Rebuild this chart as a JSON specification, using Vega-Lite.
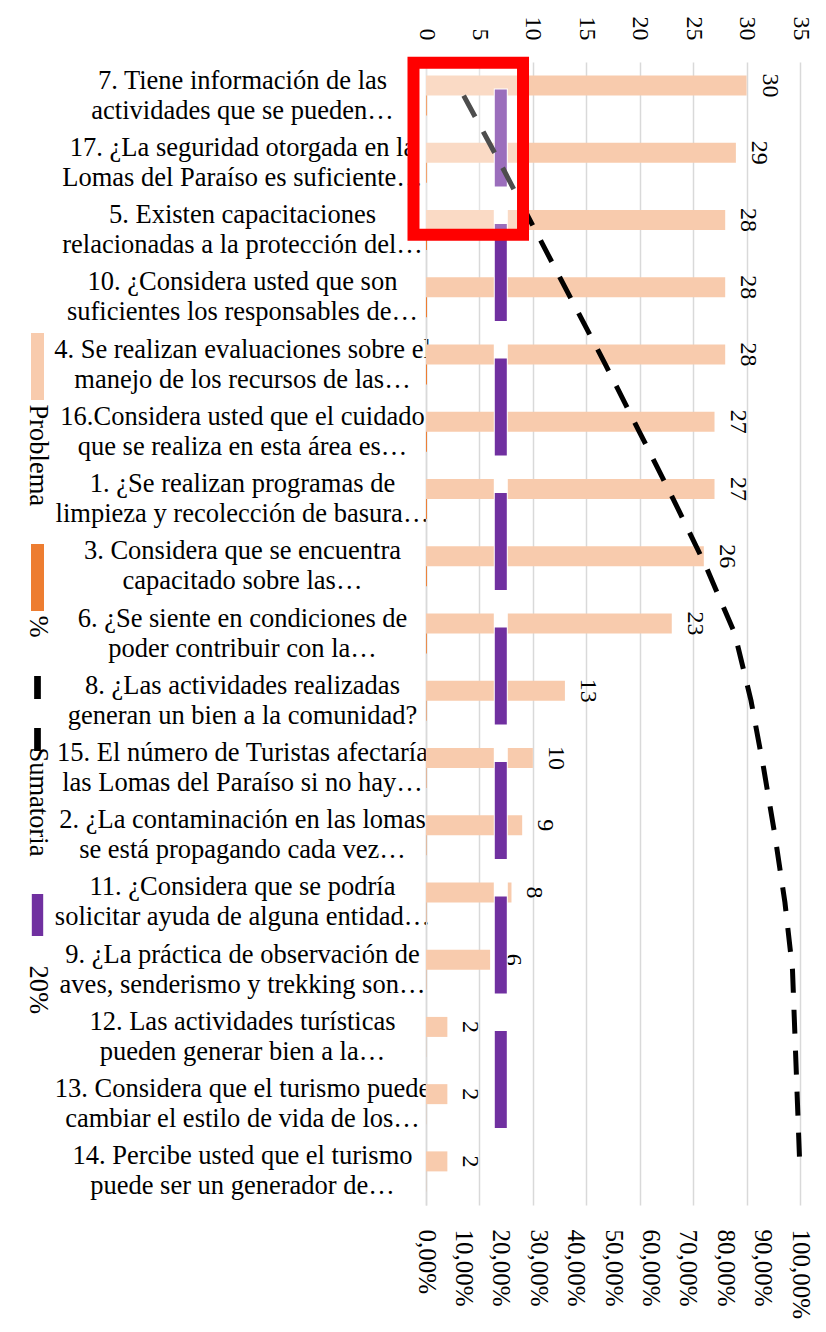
{
  "$schema": "https://vega.github.io/schema/vega-lite/v6.json",
  "autosize": {"type": "none"},
  "padding": {"left": 426, "top": 62, "right": 26, "bottom": 127},
  "width": 374,
  "height": 1143,
  "background": "white",
  "config": {"font": "Liberation Serif", "view": {"stroke": null}, "axis": {"labelOverlap": false}, "axisX": {"labelOverlap": false}},
  "datasets": {
    "main": [
      {"pregunta": "7. Tiene información de las|actividades que se pueden…", "problema": 30, "pct": 0.1007, "sumatoria": 0.1007},
      {"pregunta": "17. ¿La seguridad otorgada en la|Lomas del Paraíso es suficiente…", "problema": 29, "pct": 0.0973, "sumatoria": 0.198},
      {"pregunta": "5. Existen capacitaciones|relacionadas a la protección del…", "problema": 28, "pct": 0.094, "sumatoria": 0.2919},
      {"pregunta": "10. ¿Considera usted que son|suficientes los responsables de…", "problema": 28, "pct": 0.094, "sumatoria": 0.3859},
      {"pregunta": "4. Se realizan evaluaciones sobre el|manejo de los recursos de las…", "problema": 28, "pct": 0.094, "sumatoria": 0.4799},
      {"pregunta": "16.Considera usted que el cuidado|que se realiza en esta área es…", "problema": 27, "pct": 0.0906, "sumatoria": 0.5705},
      {"pregunta": "1. ¿Se realizan programas de|limpieza y recolección de basura…", "problema": 27, "pct": 0.0906, "sumatoria": 0.6611},
      {"pregunta": "3. Considera que se encuentra|capacitado sobre las…", "problema": 26, "pct": 0.0872, "sumatoria": 0.7483},
      {"pregunta": "6. ¿Se siente en condiciones de|poder contribuir con la…", "problema": 23, "pct": 0.0772, "sumatoria": 0.8255},
      {"pregunta": "8. ¿Las actividades realizadas|generan un bien a la comunidad?", "problema": 13, "pct": 0.0436, "sumatoria": 0.8691},
      {"pregunta": "15. El número de Turistas afectaría|las Lomas del Paraíso si no hay…", "problema": 10, "pct": 0.0336, "sumatoria": 0.9027},
      {"pregunta": "2. ¿La contaminación en las lomas|se está propagando cada vez…", "problema": 9, "pct": 0.0302, "sumatoria": 0.9329},
      {"pregunta": "11. ¿Considera que se podría|solicitar ayuda de alguna entidad…", "problema": 8, "pct": 0.0268, "sumatoria": 0.9597},
      {"pregunta": "9. ¿La práctica de observación de|aves, senderismo y trekking son…", "problema": 6, "pct": 0.0201, "sumatoria": 0.9799},
      {"pregunta": "12. Las actividades turísticas|pueden generar bien a la…", "problema": 2, "pct": 0.0067, "sumatoria": 0.9866},
      {"pregunta": "13. Considera que el turismo puede|cambiar el estilo de vida de los…", "problema": 2, "pct": 0.0067, "sumatoria": 0.9933},
      {"pregunta": "14. Percibe usted que el turismo|puede ser un generador de…", "problema": 2, "pct": 0.0067, "sumatoria": 1.0}
    ],
    "caja": [{"x1": -1.17, "x2": 9.08, "y1": 0.01, "y2": 2.57}]
  },
  "data": {"name": "main"},
  "layer": [
    {
      "layer": [
        {
          "mark": {"type": "bar", "size": 20, "yOffset": -10},
          "encoding": {
            "y": {"field": "pregunta", "type": "nominal", "sort": null, "scale": {"type": "band", "paddingInner": 0, "paddingOuter": 0},
              "axis": {"title": null, "ticks": false, "grid": false, "domainColor": "#D9D9D9", "domainWidth": 1.5, "labelFont": "Liberation Serif", "labelFontSize": 26.5, "labelColor": "#000000", "labelAlign": "center", "labelBaseline": "middle", "labelPadding": 184, "labelOffset": -15, "labelLimit": 0, "labelLineHeight": 30, "labelOverlap": false, "labelExpr": "split(datum.value, '|')"}},
            "x": {"field": "problema", "type": "quantitative", "scale": {"domain": [0, 35], "nice": false},
              "axis": {"orient": "top", "title": null, "values": [0, 5, 10, 15, 20, 25, 30, 35], "labelAngle": 90, "labelAlign": "right", "labelBaseline": "middle", "labelFont": "Liberation Serif", "labelFontSize": 24, "labelColor": "#000000", "labelPadding": 22, "labelOverlap": false, "ticks": false, "domain": false, "grid": true, "gridColor": "#D9D9D9", "gridWidth": 1.5}},
            "color": {"datum": "Problema", "type": "nominal",
              "scale": {"domain": ["Problema", "%", "Sumatoria", "20%"], "range": ["#F8CBAD", "#ED7D31", "#000000", "#7030A0"]},
              "legend": {"orient": "none", "legendX": -388.5, "legendY": 304.5, "title": null, "direction": "vertical", "padding": 0,
                "labelFont": "Liberation Serif", "labelFontSize": 26.5, "labelColor": "#000000", "labelLimit": 0, "rowPadding": 37, "symbolSize": 4489, "symbolStrokeWidth": 0,
                "encode": {
                  "symbols": {"update": {
                    "shape": {"signal": "datum.value === 'Sumatoria' ? 'M-0.1,-1h0.2v0.69h-0.2zM-0.1,0.55h0.2v0.69h-0.2z' : (datum.value === '20%' ? 'M-0.17,-1h0.34v1.254h-0.34z' : 'M-0.194,-1h0.388v2h-0.388z')"},
                    "x": {"value": 0}, "y": {"value": 0}, "strokeWidth": {"value": 0}}},
                  "labels": {"update": {"angle": {"value": 90}, "align": {"value": "left"}, "baseline": {"value": "middle"}, "x": {"value": 0}, "y": {"value": 38}}}
                }}}
          }
        },
        {
          "mark": {"type": "bar", "size": 20, "yOffset": 10},
          "encoding": {
            "y": {"field": "pregunta", "type": "nominal", "sort": null, "scale": {"type": "band", "paddingInner": 0, "paddingOuter": 0}},
            "x": {"field": "pct", "type": "quantitative"},
            "color": {"datum": "%", "type": "nominal"}
          }
        },
        {
          "mark": {"type": "text", "angle": 90, "align": "center", "baseline": "alphabetic", "xOffset": 16, "yOffset": -10, "font": "Liberation Serif", "fontSize": 24, "color": "#000000"},
          "encoding": {
            "y": {"field": "pregunta", "type": "nominal", "sort": null, "scale": {"type": "band", "paddingInner": 0, "paddingOuter": 0}},
            "x": {"field": "problema", "type": "quantitative"},
            "text": {"field": "problema", "type": "quantitative"}
          }
        }
      ]
    },
    {
      "layer": [
        {
          "mark": {"type": "line", "color": "#FFFFFF", "strokeWidth": 14, "strokeCap": "square"},
          "encoding": {
            "y": {"field": "pregunta", "type": "nominal", "sort": null, "scale": {"type": "band", "paddingInner": 0, "paddingOuter": 0}, "axis": null},
            "x": {"datum": 0.2, "type": "quantitative", "scale": {"domain": [0, 1], "nice": false},
              "axis": {"orient": "bottom", "title": null, "values": [0, 0.1, 0.2, 0.3, 0.4, 0.5, 0.6, 0.7, 0.8, 0.9, 1], "labelExpr": "replace(format(datum.value * 100, '.2f'), '.', ',') + '%'", "labelAngle": 90, "labelAlign": "left", "labelBaseline": "middle", "labelFont": "Liberation Serif", "labelFontSize": 25, "labelColor": "#000000", "labelPadding": 24, "labelOverlap": false, "labelBound": false, "labelSeparation": 0, "ticks": false, "domain": false, "grid": false}},
            "order": {"value": null}
          }
        },
        {
          "mark": {"type": "line", "color": "#7030A0", "strokeWidth": 12, "strokeCap": "square", "strokeDash": [85, 49.5]},
          "encoding": {
            "y": {"field": "pregunta", "type": "nominal", "sort": null, "scale": {"type": "band", "paddingInner": 0, "paddingOuter": 0}, "axis": null},
            "x": {"datum": 0.2, "type": "quantitative",
              "axis": {"orient": "bottom", "title": null, "values": [0, 0.1, 0.2, 0.3, 0.4, 0.5, 0.6, 0.7, 0.8, 0.9, 1], "labelExpr": "replace(format(datum.value * 100, '.2f'), '.', ',') + '%'", "labelAngle": 90, "labelAlign": "left", "labelBaseline": "middle", "labelFont": "Liberation Serif", "labelFontSize": 25, "labelColor": "#000000", "labelPadding": 24, "labelOverlap": false, "labelBound": false, "labelSeparation": 0, "ticks": false, "domain": false, "grid": false}},
            "order": {"value": null}
          }
        },
        {
          "mark": {"type": "line", "color": "#000000", "strokeWidth": 5, "strokeDash": [24, 17]},
          "encoding": {
            "y": {"field": "pregunta", "type": "nominal", "sort": null, "scale": {"type": "band", "paddingInner": 0, "paddingOuter": 0}, "axis": null},
            "x": {"field": "sumatoria", "type": "quantitative",
              "axis": {"orient": "bottom", "title": null, "values": [0, 0.1, 0.2, 0.3, 0.4, 0.5, 0.6, 0.7, 0.8, 0.9, 1], "labelExpr": "replace(format(datum.value * 100, '.2f'), '.', ',') + '%'", "labelAngle": 90, "labelAlign": "left", "labelBaseline": "middle", "labelFont": "Liberation Serif", "labelFontSize": 25, "labelColor": "#000000", "labelPadding": 24, "labelOverlap": false, "labelBound": false, "labelSeparation": 0, "ticks": false, "domain": false, "grid": false}},
            "order": {"value": null}
          }
        }
      ]
    },
    {
      "data": {"name": "caja"},
      "mark": {"type": "rect", "fill": "#FFFFFF", "fillOpacity": 0.3, "stroke": "#FF0000", "strokeWidth": 12},
      "encoding": {
        "x": {"field": "x1", "type": "quantitative", "scale": {"domain": [0, 35], "nice": false}, "axis": null},
        "x2": {"field": "x2"},
        "y": {"field": "y1", "type": "quantitative", "scale": {"domain": [0, 17], "reverse": true, "nice": false, "zero": false}, "axis": null},
        "y2": {"field": "y2"}
      }
    }
  ],
  "resolve": {"scale": {"x": "independent", "y": "independent"}}
}
